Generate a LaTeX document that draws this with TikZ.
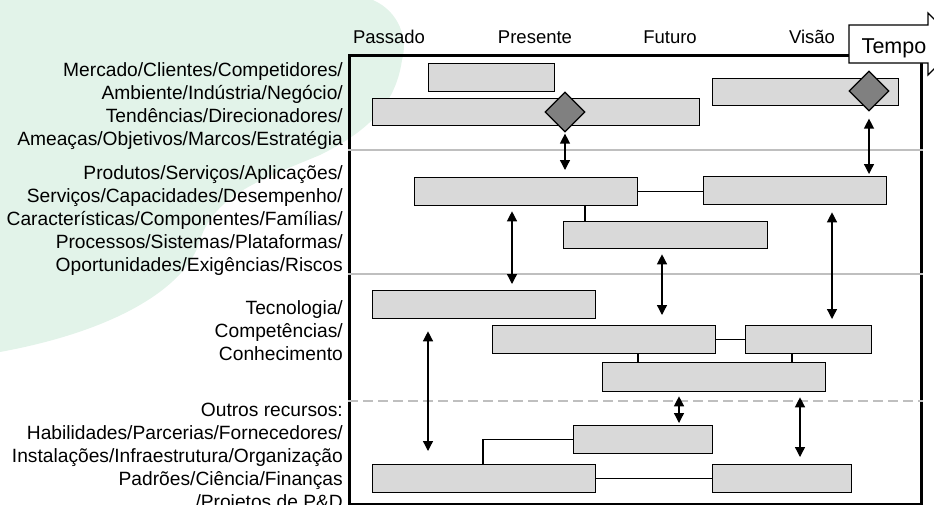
\documentclass[tikz,border=0pt]{standalone}
\usepackage{fontspec}
\setmainfont{Liberation Sans}
\usetikzlibrary{shapes.geometric,arrows.meta}
\definecolor{barfill}{RGB}{217,217,217}
\definecolor{gemfill}{RGB}{128,128,128}
\definecolor{blobgreen}{RGB}{226,243,233}
\definecolor{divgray}{RGB}{191,191,191}

\begin{document}
\begin{tikzpicture}[x=1pt,y=-1pt,
    bar/.style={draw,fill=barfill,line width=1.3pt,anchor=north west,inner sep=0pt,minimum width=#1pt,minimum height=28pt},
    gem/.style={draw,diamond,fill=gemfill,line width=1.2pt,inner sep=0pt,minimum width=40pt,minimum height=40pt},
    link/.style={line width=1.3pt,{Triangle[width=10pt,length=10pt]}-{Triangle[width=10pt,length=10pt]}},
    joint/.style={line width=1.1pt},
    divider/.style={divgray,line width=1.3pt},
    rowlabel/.style={align=right,anchor=base east,inner sep=0pt,font=\fontsize{19.2}{23}\selectfont},
    colhead/.style={anchor=base,inner sep=0pt,font=\fontsize{18.5}{22}\selectfont}]
    \clip (0,0) rectangle (934,504);
    % background
    \fill[blobgreen] (0,0) -- (373,0) .. controls (400,12) and (408,40) .. (402,60)
        .. controls (395,110) and (360,135) .. (320,155)
        .. controls (260,180) and (215,195) .. (200,240)
        .. controls (188,285) and (120,330) .. (0,352) -- cycle;

    \node[draw,line width=2.5pt,anchor=north west,inner sep=0pt,minimum width=572pt,minimum height=449pt] (frame) at (348,54) {};
    \draw[divider] (frame.west |- 0,150) -- (frame.east |- 0,150);
    \draw[divider] (frame.west |- 0,274) -- (frame.east |- 0,274);
    \draw[divider,dash pattern=on 10pt off 5pt] (frame.west |- 0,401) -- (frame.east |- 0,401);

    \node[colhead] (past) at (389,43.5) {Passado};
    \node[colhead] (now) at (535,43.5) {Presente};
    \node[colhead] (future) at (670,43.5) {Futuro};
    \node[colhead] (vision) at (812,43.5) {Visão};

    % the base of a label is its last line
    \node[rowlabel] (lblmkt) at (343,145) {Mercado/Clientes/Competidores/\\Ambiente/Indústria/Negócio/\\Tendências/Direcionadores/\\Ameaças/Objetivos/Marcos/Estratégia};
    \node[rowlabel] (lblprd) at (343,271) {Produtos/Serviços/Aplicações/\\Serviços/Capacidades/Desempenho/\\Características/Componentes/Famílias/\\Processos/Sistemas/Plataformas/\\Oportunidades/Exigências/Riscos};
    \node[rowlabel] (lbltec) at (343,360) {Tecnologia/\\Competências/\\Conhecimento};
    \node[rowlabel] (lblres) at (343,508) {Outros recursos:\\Habilidades/Parcerias/Fornecedores/\\Instalações/Infraestrutura/Organização\\Padrões/Ciência/Finanças\\/Projetos de P\&D};

    % mercado
    \node[bar=126] (mkt1) at (428,63) {};
    \node[bar=327,minimum height=27pt] (mkt2) at (372,98) {};
    \node[bar=186,minimum height=27pt] (mkt3) at (712,78) {};
    \node[gem] (ms1) at (565,112) {};
    \node[gem] (ms2) at (869,91) {};
    % produtos
    \node[bar=223] (prd1) at (414,177) {};
    \node[bar=183] (prd2) at (703,176) {};
    \node[bar=204,minimum height=27pt] (prd3) at (563,221) {};
    % tecnologia
    \node[bar=223] (tec1) at (372,290) {};
    \node[bar=223] (tec2) at (492,325) {};
    \node[bar=126] (tec3) at (745,325) {};
    \node[bar=223,minimum height=29pt] (tec4) at (602,362) {};
    % recursos
    \node[bar=139] (res1) at (573,425) {};
    \node[bar=223] (res2) at (372,464) {};
    \node[bar=139] (res3) at (712,464) {};

    \draw[joint] (prd1.east) -- (prd1.east -| prd2.west);
    \draw[joint] (prd1.south -| 585,0) -- (prd3.north -| 585,0);
    \draw[joint] (tec2.east) -- (tec2.east -| tec3.west);
    \draw[joint] (tec2.south -| 638,0) -- (tec4.north -| 638,0);
    \draw[joint] (tec3.south -| 792,0) -- (tec4.north -| 792,0);
    \draw[joint] (res1.west) -| (res2.north -| 483,0);
    \draw[joint] (res2.east) -- (res2.east -| res3.west);

    \draw[link,shorten <=1pt,shorten >=7pt] (ms1.south) -- (prd1.north -| ms1.south);
    \draw[link,shorten <=7pt,shorten >=2pt] (ms2.south) -- (prd2.north -| ms2.south);
    \draw[link,shorten <=5pt,shorten >=6pt] (prd1.south -| 512,0) -- (tec1.north -| 512,0);
    \draw[link,shorten <=5pt,shorten >=10pt] (prd3.south -| 662,0) -- (tec2.north -| 662,0);
    \draw[link,shorten <=7pt,shorten >=6pt] (prd2.south -| 832,0) -- (tec3.north -| 832,0);
    \draw[link,shorten <=12pt,shorten >=13pt] (tec1.south -| 428,0) -- (res2.north -| 428,0);
    \draw[link,shorten <=4pt,shorten >=2pt] (tec4.south -| 679,0) -- (res1.north -| 679,0);
    \draw[link,shorten <=5pt,shorten >=7pt] (tec4.south -| 800,0) -- (res3.north -| 800,0);

    % tempo
    \filldraw[fill=white,line width=1.2pt] (849,25) -- (928,25) -- (928,13) -- (959,44) -- (928,75) -- (928,63) -- (849,63) -- cycle;
    \node[anchor=base,inner sep=0pt,font=\fontsize{21.5}{24}\selectfont] (tempo) at (894,53) {Tempo};
\end{tikzpicture}
\end{document}
